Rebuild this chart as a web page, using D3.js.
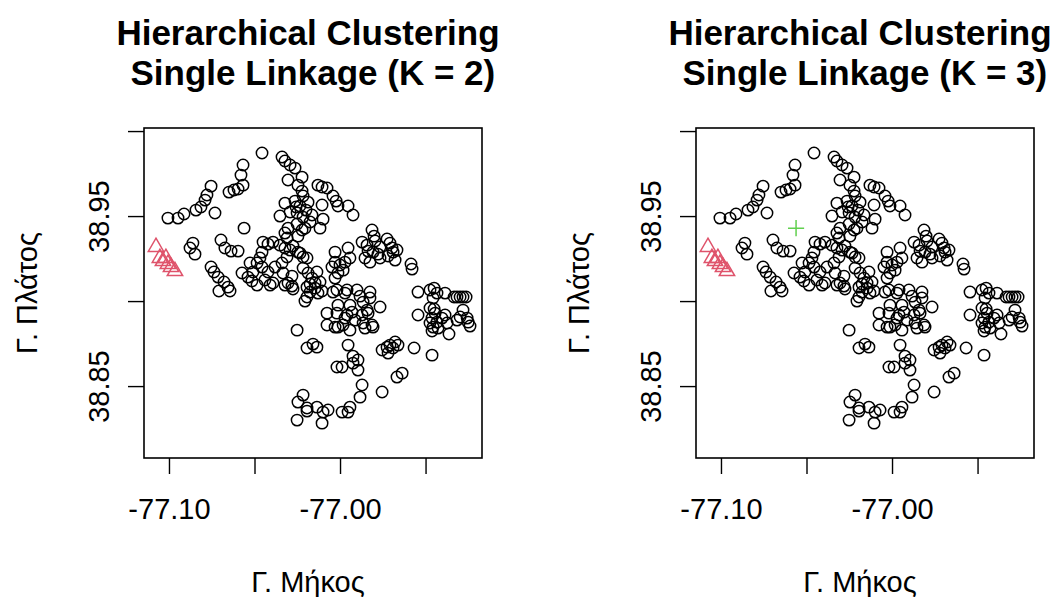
<!DOCTYPE html>
<html>
<head>
<meta charset="utf-8">
<script src="https://cdn.jsdelivr.net/npm/d3@7"></script>
<style>
  body { margin: 0; background: #ffffff; }
  svg { display: block; }
  text { font-family: "Liberation Sans", Arial, Helvetica, sans-serif; fill: #000; }
</style>
</head>
<body>
<svg id="chart" width="1059" height="597"></svg>
<script>
// Station coordinates (longitude, latitude)
// Small western group that forms its own cluster
const westPoints = [
  [-77.1076, 38.9318], [-77.1053, 38.9253], [-77.1035, 38.9235], [-77.1018, 38.9253],
  [-77.1006, 38.9218], [-77.0988, 38.9200], [-77.0965, 38.9176]
];
// Single isolated station split off at K = 3
const isolatedPoints = [
  [-77.0561, 38.9429]
];
// Remaining stations
const mainPoints = [
  [-77.1006, 38.9488], [-77.0947, 38.9488], [-77.0912, 38.9512], [-77.0842, 38.9535],
  [-77.0813, 38.9553], [-77.0789, 38.9594], [-77.0778, 38.9624], [-77.0754, 38.9676],
  [-77.0731, 38.9518], [-77.0649, 38.9641], [-77.0620, 38.9653], [-77.0596, 38.9659],
  [-77.0567, 38.9682], [-77.0579, 38.9741], [-77.0567, 38.9800],
  [-77.0860, 38.9341], [-77.0877, 38.9312], [-77.0848, 38.9276], [-77.0696, 38.9359],
  [-77.0673, 38.9312], [-77.0637, 38.9294], [-77.0596, 38.9294], [-77.0754, 38.9200],
  [-77.0737, 38.9171], [-77.0713, 38.9141], [-77.0678, 38.9112], [-77.0655, 38.9082],
  [-77.0708, 38.9059], [-77.0643, 38.9059], [-77.0573, 38.9165], [-77.0538, 38.9141],
  [-77.0515, 38.9118], [-77.0485, 38.9094], [-77.0526, 38.9224], [-77.0485, 38.9224],
  [-77.0509, 38.9171], [-77.0456, 38.9200], [-77.0421, 38.9171], [-77.0439, 38.9124],
  [-77.0409, 38.9094],
  [-77.0456, 38.9871], [-77.0339, 38.9847], [-77.0322, 38.9824], [-77.0292, 38.9800],
  [-77.0263, 38.9782], [-77.0222, 38.9729], [-77.0304, 38.9712], [-77.0246, 38.9682],
  [-77.0222, 38.9647], [-77.0129, 38.9682], [-77.0105, 38.9671], [-77.0076, 38.9665],
  [-77.0041, 38.9618], [-77.0023, 38.9588], [-77.0012, 38.9559], [-76.9953, 38.9559],
  [-76.9924, 38.9506], [-77.0322, 38.9576], [-77.0263, 38.9588], [-77.0234, 38.9559],
  [-77.0187, 38.9582], [-77.0105, 38.9565], [-77.0351, 38.9500], [-77.0292, 38.9524],
  [-77.0251, 38.9518], [-77.0216, 38.9494], [-77.0164, 38.9506], [-77.0099, 38.9482],
  [-77.0304, 38.9429], [-77.0251, 38.9453], [-77.0205, 38.9429], [-77.0117, 38.9429],
  [-77.0322, 38.9400], [-77.0310, 38.9371], [-77.0222, 38.9418], [-77.0246, 38.9382],
  [-77.0216, 38.9618], [-77.0199, 38.9535], [-77.0257, 38.9553], [-77.0175, 38.9465],
  [-77.0450, 38.9347], [-77.0421, 38.9335], [-77.0456, 38.9288], [-77.0468, 38.9253],
  [-77.0392, 38.9347], [-77.0351, 38.9329], [-77.0322, 38.9312], [-77.0292, 38.9300],
  [-77.0275, 38.9324], [-77.0246, 38.9288], [-77.0216, 38.9259], [-77.0310, 38.9259],
  [-77.0193, 38.9253], [-77.0234, 38.9282], [-77.0380, 38.9200], [-77.0333, 38.9165],
  [-77.0281, 38.9147], [-77.0392, 38.9106], [-77.0322, 38.9094], [-77.0281, 38.9088],
  [-77.0339, 38.9224], [-77.0304, 38.9106], [-77.0275, 38.9071], [-77.0216, 38.9194],
  [-77.0187, 38.9165], [-77.0164, 38.9135], [-77.0175, 38.9100], [-77.0135, 38.9171],
  [-77.0117, 38.9112], [-77.0146, 38.9076], [-77.0105, 38.9059], [-77.0175, 38.9053],
  [-77.0029, 38.9288], [-76.9953, 38.9312], [-76.9942, 38.9253], [-77.0029, 38.9229],
  [-77.0047, 38.9200], [-77.0000, 38.9212], [-77.0012, 38.9165], [-76.9971, 38.9229],
  [-76.9982, 38.9182], [-77.0018, 38.9065], [-76.9971, 38.9047], [-76.9901, 38.9065],
  [-76.9871, 38.9347], [-76.9854, 38.9253], [-77.0029, 38.9135],
  [-76.9813, 38.9418], [-76.9801, 38.9382], [-76.9795, 38.9353], [-76.9842, 38.9329],
  [-76.9836, 38.9294], [-76.9807, 38.9288], [-76.9766, 38.9318], [-76.9778, 38.9276],
  [-76.9825, 38.9229], [-76.9766, 38.9253], [-76.9725, 38.9365], [-76.9708, 38.9341],
  [-76.9696, 38.9312], [-76.9690, 38.9288], [-76.9667, 38.9300], [-76.9719, 38.9265],
  [-76.9678, 38.9241], [-76.9585, 38.9218], [-76.9579, 38.9188],
  [-77.0193, 38.9082], [-77.0146, 38.9106], [-77.0129, 38.9047], [-77.0193, 38.9024],
  [-77.0205, 38.9000], [-77.0041, 38.9053], [-76.9959, 38.9065], [-76.9825, 38.9053],
  [-76.9883, 38.9029], [-77.0012, 38.8976], [-76.9942, 38.8976], [-76.9865, 38.8994],
  [-76.9842, 38.8947], [-76.9766, 38.8965], [-77.0076, 38.8929], [-77.0018, 38.8929],
  [-76.9959, 38.8918], [-76.9912, 38.8888], [-76.9865, 38.8871], [-76.9813, 38.8859],
  [-77.0076, 38.8859], [-77.0029, 38.8847], [-76.9982, 38.8859], [-76.9942, 38.8829],
  [-76.9930, 38.8935], [-76.9971, 38.8900], [-77.0012, 38.8847], [-76.9871, 38.8918],
  [-76.9854, 38.8841], [-76.9836, 38.8929], [-76.9807, 38.8847], [-76.9825, 38.9018],
  [-77.0251, 38.8829], [-77.0193, 38.8724], [-77.0158, 38.8747], [-77.0135, 38.8729],
  [-76.9953, 38.8741], [-76.9924, 38.8676], [-76.9895, 38.8653], [-76.9924, 38.8635],
  [-76.9895, 38.8594], [-76.9988, 38.8612], [-77.0018, 38.8612],
  [-76.9544, 38.9053], [-76.9474, 38.9065], [-76.9450, 38.9076], [-76.9433, 38.9047],
  [-76.9386, 38.9047], [-76.9456, 38.9018], [-76.9333, 38.9024], [-76.9316, 38.9024],
  [-76.9298, 38.9024], [-76.9281, 38.9024], [-76.9263, 38.9024], [-76.9544, 38.8918],
  [-76.9474, 38.8959], [-76.9450, 38.8953], [-76.9444, 38.8929], [-76.9462, 38.8900],
  [-76.9474, 38.8871], [-76.9456, 38.8847], [-76.9427, 38.8841], [-76.9462, 38.8824],
  [-76.9433, 38.8876], [-76.9404, 38.8900], [-76.9374, 38.8871], [-76.9363, 38.8806],
  [-76.9316, 38.8888], [-76.9298, 38.8906], [-76.9281, 38.8947], [-76.9257, 38.8900],
  [-76.9251, 38.8876], [-76.9240, 38.8853], [-76.9386, 38.8918],
  [-76.9754, 38.8712], [-76.9725, 38.8729], [-76.9708, 38.8741], [-76.9678, 38.8759],
  [-76.9661, 38.8741], [-76.9690, 38.8724], [-76.9719, 38.8694], [-76.9567, 38.8724],
  [-76.9462, 38.8682], [-76.9637, 38.8576], [-76.9667, 38.8553], [-76.9754, 38.8465],
  [-76.9871, 38.8506], [-76.9883, 38.8435], [-76.9942, 38.8376], [-76.9988, 38.8347],
  [-76.9953, 38.8347], [-77.0070, 38.8359], [-77.0099, 38.8347], [-77.0135, 38.8376],
  [-77.0193, 38.8371], [-77.0216, 38.8447], [-77.0246, 38.8406], [-77.0251, 38.8300],
  [-77.0105, 38.8282], [-77.0193, 38.8353]
];

// Number of clusters per panel and the cluster label of each group
const panelK = [2, 3];
const westCluster = [2, 2];
const isolatedCluster = [1, 3];
const mainCluster = [1, 1];

// Axis limits and ticks
const lonLimits = [-77.1146, -76.9170];
const latLimits = [38.8077, 39.0018];
const xTicks = [-77.10, -77.05, -77.00, -76.95];
const xTickLabels = ["-77.10", "", "-77.00", ""];
const yTicks = [38.85, 38.90, 38.95, 39.00];
const yTickLabels = ["38.85", "", "38.95", ""];

const titleLine1 = "Hierarchical Clustering";
const titleLine2 = " Single Linkage (K = %K)";
const xTitle = "Γ. Μήκος";
const yTitle = "Γ. Πλάτος";

// Cluster colours; symbols are circle (1), triangle (2), plus (3)
const clusterColors = { 1: "#000000", 2: "#DF536B", 3: "#61D04F" };

// Layout
const plotTop = 128, plotBottom = 458, plotWidth = 338;
const panelLefts = [144, 696];
const textShift = -5;         // horizontal offset of centred titles
const tickFont = 29, titleFont = 35;
const rc = 5.7;               // circle radius
const tr = 1.555 * rc;        // triangle circumradius
const ph = 1.414 * rc;        // plus half-length

const svg = d3.select("#chart");

function symbolPath(cl) {
  if (cl === 2) {
    const xc = tr * Math.sqrt(3) / 2, yc = tr / 2;
    return `M0,${-tr}L${xc},${yc}L${-xc},${yc}Z`;
  }
  return `M${-ph},0H${ph}M0,${-ph}V${ph}`;
}

panelK.forEach((k, pi) => {
  const left = panelLefts[pi], right = left + plotWidth;
  const cx = (left + right) / 2 + textShift;
  const x = d3.scaleLinear().domain(lonLimits).range([left, right]);
  const y = d3.scaleLinear().domain(latLimits).range([plotBottom, plotTop]);
  const g = svg.append("g");

  const pts = [];
  westPoints.forEach(p => pts.push({ lon: p[0], lat: p[1], cl: westCluster[pi] }));
  mainPoints.forEach(p => pts.push({ lon: p[0], lat: p[1], cl: mainCluster[pi] }));
  isolatedPoints.forEach(p => pts.push({ lon: p[0], lat: p[1], cl: isolatedCluster[pi] }));

  // Points
  const ptsG = g.append("g").attr("fill", "none").attr("stroke-width", 1.5);
  ptsG.selectAll("circle")
    .data(pts.filter(d => d.cl === 1))
    .join("circle")
    .attr("cx", d => x(d.lon))
    .attr("cy", d => y(d.lat))
    .attr("r", rc)
    .attr("stroke", d => clusterColors[d.cl]);
  ptsG.selectAll("path")
    .data(pts.filter(d => d.cl !== 1))
    .join("path")
    .attr("transform", d => `translate(${x(d.lon)},${y(d.lat)})`)
    .attr("d", d => symbolPath(d.cl))
    .attr("stroke", d => clusterColors[d.cl]);

  // Box
  g.append("rect")
    .attr("x", left).attr("y", plotTop)
    .attr("width", plotWidth).attr("height", plotBottom - plotTop)
    .attr("fill", "none").attr("stroke", "#000").attr("stroke-width", 1.6);

  // X axis
  const xAxis = d3.axisBottom(x)
    .tickValues(xTicks)
    .tickSize(16)
    .tickSizeOuter(0)
    .tickPadding(24)
    .tickFormat((d, i) => xTickLabels[i]);
  const gx = g.append("g").attr("transform", `translate(0,${plotBottom})`).call(xAxis);
  gx.select(".domain").remove();
  gx.selectAll(".tick line").attr("stroke", "#000").attr("stroke-width", 1.4);
  gx.selectAll(".tick text").attr("font-size", tickFont).attr("fill", "#000")
    .attr("font-family", "'Liberation Sans', Arial, sans-serif");

  // Y axis
  const yAxis = d3.axisLeft(y)
    .tickValues(yTicks)
    .tickSize(16)
    .tickSizeOuter(0)
    .tickFormat((d, i) => yTickLabels[i]);
  const gy = g.append("g").attr("transform", `translate(${left},0)`).call(yAxis);
  gy.select(".domain").remove();
  gy.selectAll(".tick line").attr("stroke", "#000").attr("stroke-width", 1.4);
  gy.selectAll(".tick text")
    .attr("x", null).attr("dy", null)
    .attr("text-anchor", "middle")
    .attr("transform", "translate(-35,0) rotate(-90)")
    .attr("font-size", tickFont).attr("fill", "#000")
    .attr("font-family", "'Liberation Sans', Arial, sans-serif");

  // Titles
  const t = g.append("text")
    .attr("text-anchor", "middle")
    .attr("font-size", titleFont)
    .attr("font-weight", "bold")
    .style("white-space", "pre");
  t.append("tspan").attr("x", cx).attr("y", 45).text(titleLine1);
  t.append("tspan").attr("x", cx).attr("y", 85).text(titleLine2.replace("%K", k));

  g.append("text")
    .attr("x", cx).attr("y", 592)
    .attr("text-anchor", "middle")
    .attr("font-size", tickFont)
    .text(xTitle);

  g.append("text")
    .attr("transform", `translate(${left - 107},${(plotTop + plotBottom) / 2}) rotate(-90)`)
    .attr("text-anchor", "middle")
    .attr("font-size", tickFont)
    .text(yTitle);
});
</script>
</body>
</html>
